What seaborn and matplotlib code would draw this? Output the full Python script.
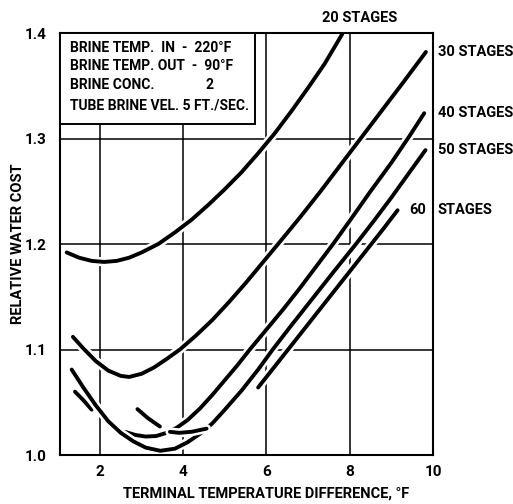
import numpy as np
import pandas as pd
import matplotlib
matplotlib.use("Agg")
import matplotlib.pyplot as plt
import matplotlib.patheffects as pe
from matplotlib.patches import Rectangle
import seaborn as sns

# ---- data (x = terminal temperature difference, y = relative water cost)
x20 = [1.20, 1.50, 1.80, 2.10, 2.40, 2.70, 3.00, 3.40, 3.80, 4.20, 4.60, 5.00, 5.40, 5.80, 6.20, 6.60, 7.00, 7.40, 7.82]
y20 = [1.192, 1.187, 1.184, 1.183, 1.184, 1.187, 1.192, 1.200, 1.211, 1.223, 1.237, 1.252, 1.268, 1.286, 1.305, 1.326, 1.348, 1.371, 1.399]

x30 = [1.35, 1.60, 1.90, 2.20, 2.50, 2.70, 3.00, 3.30, 3.60, 3.92, 4.30, 4.70, 5.10, 5.50, 5.90, 6.30, 6.80, 7.30, 7.80, 8.30, 8.80, 9.30, 9.83]
y30 = [1.112, 1.101, 1.089, 1.080, 1.075, 1.074, 1.077, 1.083, 1.091, 1.100, 1.113, 1.128, 1.145, 1.163, 1.182, 1.201, 1.225, 1.250, 1.276, 1.302, 1.328, 1.354, 1.382]

x40a = [1.40, 1.60, 1.80]
y40a = [1.060, 1.052, 1.043]
x40b = [2.60, 2.85, 3.10, 3.35, 3.60, 3.85, 4.10, 4.40, 4.70, 5.00, 5.30, 5.60, 6.00, 6.40, 6.80, 7.20, 7.60, 8.00, 8.50, 9.00, 9.43, 9.79]
y40b = [1.022, 1.019, 1.0175, 1.018, 1.021, 1.026, 1.033, 1.044, 1.057, 1.071, 1.085, 1.100, 1.119, 1.138, 1.158, 1.179, 1.200, 1.222, 1.250, 1.277, 1.302, 1.324]

x50 = [1.32, 1.60, 1.90, 2.20, 2.50, 2.80, 3.10, 3.45, 3.80, 4.10, 4.40, 4.70, 5.00, 5.40, 5.80, 6.15, 6.60, 7.10, 7.60, 8.15, 8.60, 9.00, 9.40, 9.82]
y50 = [1.081, 1.064, 1.047, 1.032, 1.021, 1.013, 1.007, 1.004, 1.006, 1.012, 1.020, 1.030, 1.043, 1.061, 1.081, 1.100, 1.123, 1.148, 1.173, 1.200, 1.223, 1.244, 1.266, 1.289]

x60a = [2.90, 3.15, 3.44]
y60a = [1.0435, 1.035, 1.027]
x60b = [3.68, 3.90, 4.20, 4.56]
y60b = [1.022, 1.021, 1.022, 1.025]
x60c = [5.80, 6.20, 6.60, 7.00, 7.50, 8.00, 8.50, 8.80, 9.15]
y60c = [1.064, 1.084, 1.104, 1.124, 1.149, 1.174, 1.199, 1.214, 1.232]

xticks = [2, 4, 6, 8, 10]
xtick_labels = ["2", "4", "6", "8", "10"]
yticks = [1.0, 1.1, 1.2, 1.3, 1.4]
ytick_labels = ["1.0", "1.1", "1.2", "1.3", "1.4"]

box_lines = ["BRINE TEMP.  IN  -  220°F",
             "BRINE TEMP. OUT  -  90°F",
             "BRINE CONC.",
             "TUBE BRINE VEL. 5 FT./SEC."]
conc_value = "2"

segments = [
    ("20 STAGES", x20, y20),
    ("30 STAGES", x30, y30),
    ("40 STAGES a", x40a, y40a),
    ("40 STAGES b", x40b, y40b),
    ("50 STAGES", x50, y50),
    ("60 STAGES a", x60a, y60a),
    ("60 STAGES b", x60b, y60b),
    ("60 STAGES c", x60c, y60c),
]

rows = []
for name, xs, ys in segments:
    for xv, yv in zip(xs, ys):
        rows.append({"segment": name, "ttd": xv, "cost": yv})
df = pd.DataFrame(rows)

sns.set_theme(style="white")
plt.rcParams["font.family"] = ["Roboto", "DejaVu Sans"]
plt.rcParams["font.weight"] = "bold"
plt.rcParams["text.color"] = "black"
plt.rcParams["axes.labelcolor"] = "black"
plt.rcParams["xtick.color"] = "black"
plt.rcParams["ytick.color"] = "black"

FS = 10.5

fig = plt.figure(figsize=(5.13, 5.04), dpi=100)
ax = fig.add_axes([0.117, 0.0972, 0.727, 0.8373])

halo = [pe.Stroke(linewidth=6.5, foreground="white"), pe.Normal()]
for name, _, _ in segments:
    sub = df[df["segment"] == name]
    sns.lineplot(data=sub, x="ttd", y="cost", ax=ax, color="black",
                 linewidth=2.8, estimator=None, sort=False,
                 solid_capstyle="round", solid_joinstyle="round",
                 path_effects=halo, zorder=2)

ax.set_xlim(1.04, 10.0)
ax.set_ylim(1.0, 1.4)
ax.set_xticks(xticks)
ax.set_xticklabels(xtick_labels)
ax.set_yticks(yticks)
ax.set_yticklabels(ytick_labels)
ax.tick_params(length=0, labelsize=FS + 0.5, colors="black")
ax.tick_params(axis="y", pad=10)
ax.tick_params(axis="x", pad=7)
for lab in ax.get_xticklabels() + ax.get_yticklabels():
    lab.set_fontweight("bold")

ax.set_axisbelow(True)
ax.grid(True, color="black", linewidth=1.1)
for sp in ax.spines.values():
    sp.set_color("black")
    sp.set_linewidth(1.5)
    sp.set_visible(True)

ax.set_xlabel("TERMINAL TEMPERATURE DIFFERENCE, °F", fontsize=FS,
              fontweight="bold", color="black")
ax.xaxis.set_label_coords(0.552, -0.074)
ax.set_ylabel("RELATIVE WATER COST", fontsize=FS, fontweight="bold", color="black")
ax.yaxis.set_label_coords(-0.094, 0.5)

# stage labels
ax.text(8.24, 1.414, "20 STAGES", ha="center", va="center", fontsize=FS,
        fontweight="bold", clip_on=False)
for txt, yv in [("30 STAGES", y30[-1]), ("40 STAGES", y40b[-1]), ("50 STAGES", y50[-1])]:
    ax.text(10.12, yv, txt, ha="left", va="center", fontsize=FS,
            fontweight="bold", clip_on=False)
ax.text(9.43, y60c[-1], "60", ha="left", va="center", fontsize=FS,
        fontweight="bold", clip_on=False, zorder=5)
ax.text(10.12, y60c[-1], "STAGES", ha="left", va="center", fontsize=FS,
        fontweight="bold", clip_on=False)

# condition box
ax.add_patch(Rectangle((0, 0.784), 0.523, 0.216, transform=ax.transAxes,
                       facecolor="white", edgecolor="black", linewidth=1.4,
                       zorder=3, clip_on=False))
ys_box = [0.965, 0.922, 0.876, 0.829]
for txt, yb in zip(box_lines, ys_box):
    ax.text(0.027, yb, txt, transform=ax.transAxes, ha="left", va="center",
            fontsize=10.0, fontweight="bold", zorder=4)
ax.text(0.39, ys_box[2], conc_value, transform=ax.transAxes, ha="left",
        va="center", fontsize=10.0, fontweight="bold", zorder=4)

fig.savefig("out.png", dpi=100, facecolor="white")
